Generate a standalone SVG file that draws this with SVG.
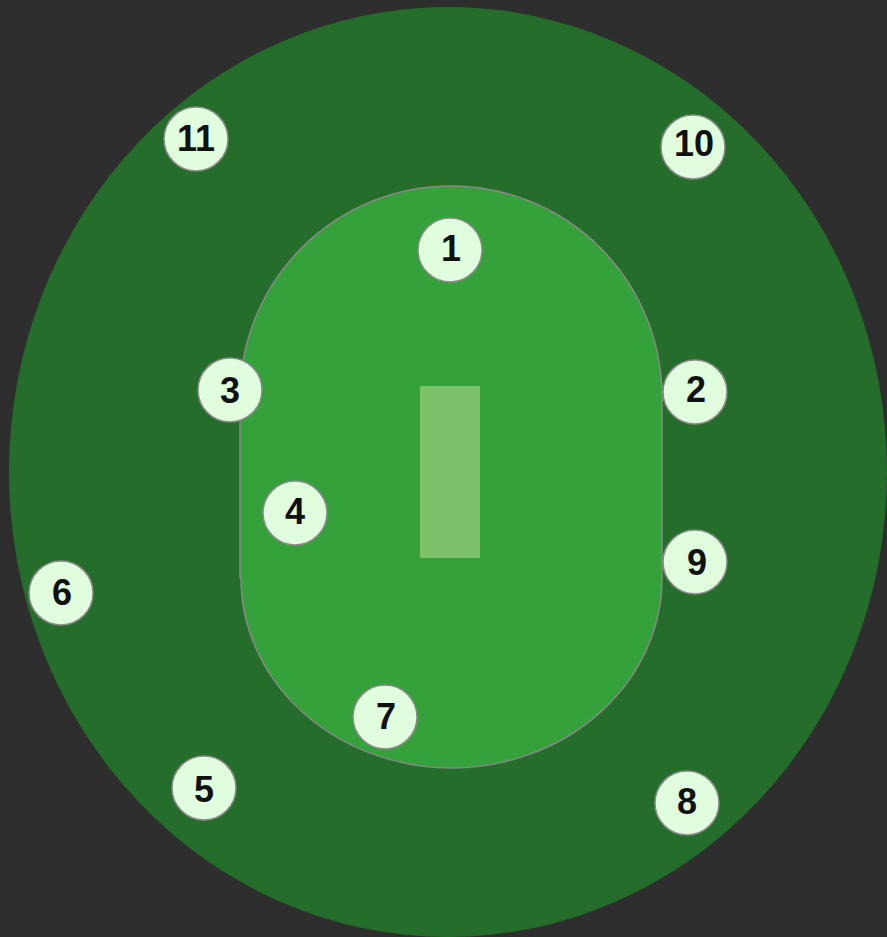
<svg xmlns="http://www.w3.org/2000/svg" width="887" height="937" viewBox="0 0 887 937">
<style>
.f circle{fill:#e0fdde;stroke:#8a8a8a;stroke-width:1.5}
.f text{font-family:"Liberation Sans",Arial,sans-serif;font-weight:bold;font-size:36px;fill:#111;text-anchor:middle}
</style>
<rect width="887" height="937" fill="#2e2e2e"/>
<ellipse id="outfield" cx="448" cy="472" rx="439" ry="465" fill="#256d2a"/>
<path id="infield" d="M240,397 A211,211 0 0 1 662,397 L662,578 A211,190 0 0 1 451,768 A211,190 0 0 1 241,578 L240,578 Z" fill="#34a13a" stroke="#888" stroke-width="1.5"/>
<rect id="pitch" x="420" y="386" width="60" height="172" fill="#7dc26a"/>
<g id="connectors"></g>
<g id="f1" class="f"><circle cx="450" cy="250" r="32"/><text x="451" y="261">1</text></g>
<g id="f2" class="f"><circle cx="695" cy="392" r="32"/><text x="696" y="402">2</text></g>
<g id="f3" class="f"><circle cx="230" cy="390" r="32"/><text x="230" y="403">3</text></g>
<g id="f4" class="f"><circle cx="295" cy="513" r="32"/><text x="295" y="524">4</text></g>
<g id="f5" class="f"><circle cx="204" cy="788" r="32"/><text x="204" y="802">5</text></g>
<g id="f6" class="f"><circle cx="61" cy="593" r="32"/><text x="62" y="605">6</text></g>
<g id="f7" class="f"><circle cx="385" cy="717" r="32"/><text x="386" y="729">7</text></g>
<g id="f8" class="f"><circle cx="687" cy="803" r="32"/><text x="687" y="814">8</text></g>
<g id="f9" class="f"><circle cx="695" cy="562" r="32"/><text x="697" y="575">9</text></g>
<g id="f10" class="f"><circle cx="693" cy="147" r="32"/><text x="694" y="156">10</text></g>
<g id="f11" class="f"><circle cx="196" cy="139" r="32"/><text x="196" y="151">11</text></g>
</svg>
